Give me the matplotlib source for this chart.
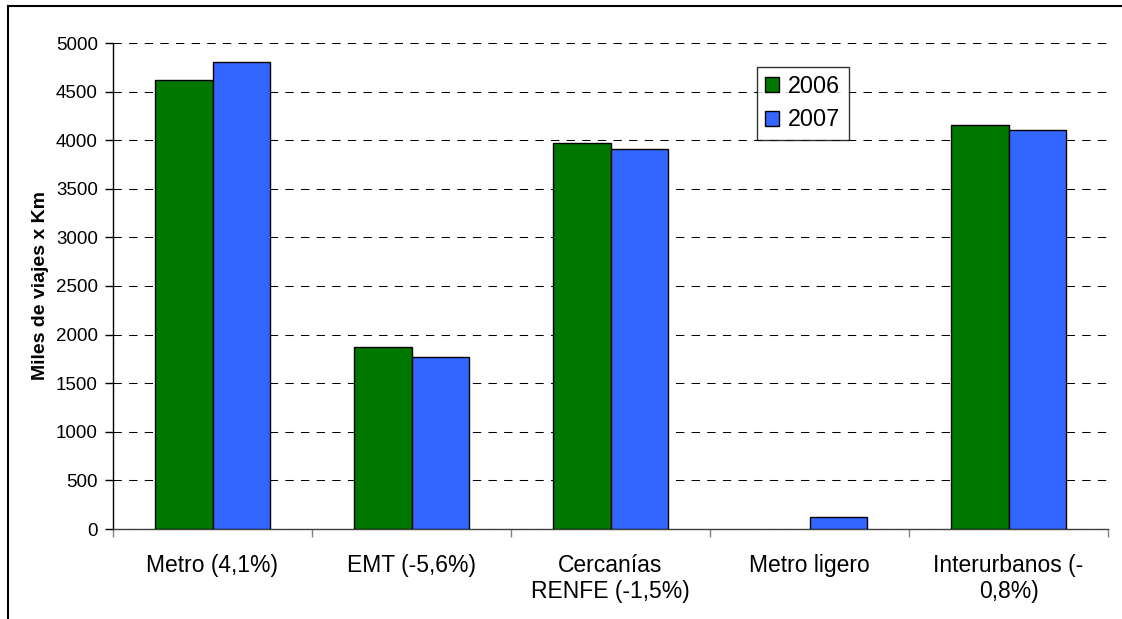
import matplotlib
matplotlib.use("Agg")
import matplotlib.pyplot as plt
from matplotlib.lines import Line2D
import numpy as np

categories = ["Metro (4,1%)", "EMT (-5,6%)", "Cercanías\nRENFE (-1,5%)", "Metro ligero", "Interurbanos (-\n0,8%)"]
values_2006 = [4620, 1870, 3975, 0, 4160]
values_2007 = [4800, 1765, 3910, 125, 4110]
series_names = ["2006", "2007"]
yticks = [0, 500, 1000, 1500, 2000, 2500, 3000, 3500, 4000, 4500, 5000]

plt.rcParams['font.family'] = ['Liberation Sans', 'DejaVu Sans']

fig = plt.figure(figsize=(11.22, 6.19), dpi=100)
ax = fig.add_axes([113 / 1122, 1 - 529 / 619, 995 / 1122, 486 / 619])

x = np.arange(len(categories))
w = 0.289
b1 = ax.bar(x - w / 2, values_2006, w, color='#007800', edgecolor='black', linewidth=1, label=series_names[0], zorder=3)
b2 = ax.bar(x + w / 2, values_2007, w, color='#3366FF', edgecolor='black', linewidth=1, label=series_names[1], zorder=3)
# empty bars are not drawn in the original
for p in list(b1.patches) + list(b2.patches):
    if p.get_height() == 0:
        p.set_visible(False)

ax.set_xlim(-0.5, len(categories) - 0.5)
ax.set_ylim(0, 5000)
ax.set_yticks(yticks)
ax.set_yticklabels([str(v) for v in yticks], fontsize=13.5)
ax.yaxis.grid(True, color='black', linestyle=(0, (8, 7)), linewidth=0.75, zorder=0)

ax.set_xticks(x)
ax.set_xticklabels(categories, fontsize=16.5, linespacing=1.15)
ax.set_xticks(np.arange(-0.5, len(categories)), minor=True)
ax.tick_params(axis='x', which='major', length=0, pad=18)
ax.tick_params(axis='x', which='minor', length=6, color='#808080', width=1)
ax.tick_params(axis='y', length=6, width=1, pad=5)

for s in ['top', 'right']:
    ax.spines[s].set_visible(False)
ax.spines['left'].set_linewidth(1)
ax.spines['bottom'].set_linewidth(1)
ax.spines['bottom'].set_color('#404040')

ax.set_ylabel("Miles de viajes x Km", fontsize=14, fontweight='bold', labelpad=5)

leg = ax.legend(loc='upper left', bbox_to_anchor=(0.647, 0.951), fontsize=16.8,
                frameon=True, fancybox=False, borderpad=0.35, labelspacing=0.45,
                handlelength=0.6, handleheight=0.6, handletextpad=0.4, borderaxespad=0)
leg.get_frame().set_edgecolor('black')
leg.get_frame().set_linewidth(1)

# outer chart border (left and top only visible)
fig.add_artist(Line2D([7.5 / 1122, 7.5 / 1122], [0, 1 - 5.5 / 619], color='black', linewidth=1.5))
fig.add_artist(Line2D([7.5 / 1122, 1], [1 - 5.5 / 619, 1 - 5.5 / 619], color='black', linewidth=1.5))

fig.savefig("out.png", dpi=100)
